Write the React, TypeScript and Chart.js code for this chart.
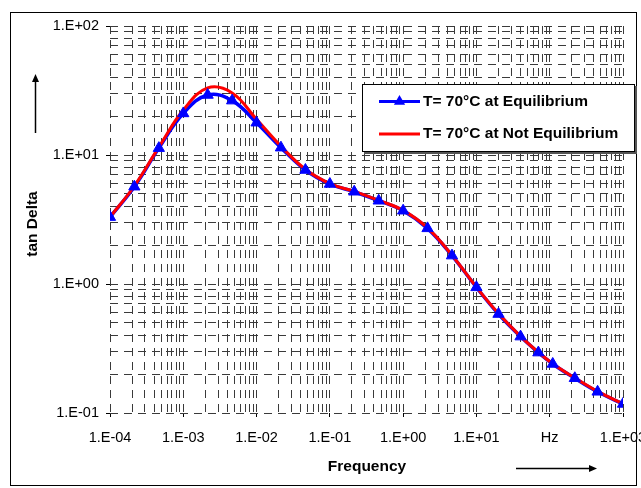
import React, { useEffect, useRef } from 'react';
import { Chart, registerables } from 'chart.js';

Chart.register(...registerables);

// ---- data ----
const frequency = [
  1e-4, 2.15e-4, 4.64e-4, 1e-3, 2.15e-3, 4.64e-3, 1e-2, 2.15e-2, 4.64e-2,
  1e-1, 2.15e-1, 4.64e-1, 1, 2.15, 4.64, 10, 20, 40, 70, 110, 220, 450, 1000,
];
const tanDeltaEquilibrium = [
  3.3, 5.68, 11.3, 21.0, 29.2, 26.4, 17.8, 11.4, 7.65,
  5.96, 5.19, 4.42, 3.7, 2.7, 1.66, 0.942, 0.585, 0.391, 0.294, 0.24, 0.186, 0.146, 0.1175,
];
const tanDeltaNotEquilibrium = [
  3.3, 5.75, 11.5, 22.3, 33.1, 30.3, 18.9, 11.7, 7.75,
  6.0, 5.22, 4.45, 3.72, 2.72, 1.67, 0.945, 0.59, 0.393, 0.296, 0.241, 0.187, 0.147, 0.118,
];
const xTickValues = [1e-4, 1e-3, 1e-2, 1e-1, 1, 10, 100, 1000];
const xTickLabels = ['1.E-04', '1.E-03', '1.E-02', '1.E-01', '1.E+00', '1.E+01', 'Hz', '1.E+03'];
const yTickValues = [0.1, 1, 10, 100];
const yTickLabels = ['1.E-01', '1.E+00', '1.E+01', '1.E+02'];
const seriesNames = ['T= 70°C at Equilibrium', 'T= 70°C at Not Equilibrium'];
const xTitle = 'Frequency';
const yTitle = 'tan Delta';

const FONT = '"Liberation Sans", Arial, sans-serif';
const BLUE = '#0000FF';
const RED = '#FF0000';

function logTicks(minExp: number, maxExp: number) {
  const out: { value: number }[] = [];
  for (let e = minExp; e < maxExp; e++) {
    for (let m = 1; m <= 9; m++) out.push({ value: Number((m * Math.pow(10, e)).toPrecision(6)) });
  }
  out.push({ value: Number(Math.pow(10, maxExp).toPrecision(6)) });
  return out;
}

function labelFor(values: number[], labels: string[], v: number) {
  const i = values.findIndex((t) => Math.abs(Math.log10(t) - Math.log10(v)) < 1e-6);
  return i >= 0 ? labels[i] : '';
}

function arrow(ctx: CanvasRenderingContext2D, x1: number, y1: number, x2: number, y2: number) {
  const ang = Math.atan2(y2 - y1, x2 - x1);
  const hl = 8;
  const hw = 3.5;
  ctx.beginPath();
  ctx.moveTo(x1, y1);
  ctx.lineTo(x2 - Math.cos(ang) * hl, y2 - Math.sin(ang) * hl);
  ctx.stroke();
  ctx.beginPath();
  ctx.moveTo(x2, y2);
  ctx.lineTo(x2 - Math.cos(ang) * hl - Math.sin(ang) * hw, y2 - Math.sin(ang) * hl + Math.cos(ang) * hw);
  ctx.lineTo(x2 - Math.cos(ang) * hl + Math.sin(ang) * hw, y2 - Math.sin(ang) * hl - Math.cos(ang) * hw);
  ctx.closePath();
  ctx.fill();
}

const decorPlugin = {
  id: 'decor',
  afterDraw(chart: any) {
    const ctx: CanvasRenderingContext2D = chart.ctx;
    ctx.save();
    ctx.strokeStyle = '#000';
    ctx.fillStyle = '#000';
    ctx.lineWidth = 1;
    // outer frame
    ctx.strokeRect(10.5, 12.5, 626, 473);

    // y title
    ctx.save();
    ctx.font = `bold 15.5px ${FONT}`;
    ctx.translate(33, 224);
    ctx.rotate(-Math.PI / 2);
    ctx.textAlign = 'center';
    ctx.textBaseline = 'middle';
    ctx.fillText(yTitle, 0, 0);
    ctx.restore();

    // x title
    ctx.font = `bold 15.5px ${FONT}`;
    ctx.textAlign = 'center';
    ctx.textBaseline = 'middle';
    ctx.fillText(xTitle, 367, 467);

    // arrows
    ctx.lineWidth = 1.5;
    arrow(ctx, 35.5, 133, 35.5, 74);
    arrow(ctx, 516, 468.5, 597, 468.5);

    // legend
    const lx = 362, ly = 84, lw = 273, lh = 68;
    ctx.fillStyle = '#555';
    ctx.fillRect(lx + 2, ly + 2, lw, lh);
    ctx.fillStyle = '#fff';
    ctx.fillRect(lx, ly, lw, lh);
    ctx.lineWidth = 1;
    ctx.strokeStyle = '#000';
    ctx.strokeRect(lx + 0.5, ly + 0.5, lw - 1, lh - 1);

    const rows = [
      { y: 101.5, color: BLUE, marker: true, text: seriesNames[0] },
      { y: 134, color: RED, marker: false, text: seriesNames[1] },
    ];
    rows.forEach((r) => {
      ctx.strokeStyle = r.color;
      ctx.lineWidth = 3;
      ctx.beginPath();
      ctx.moveTo(379, r.y);
      ctx.lineTo(420, r.y);
      ctx.stroke();
      if (r.marker) {
        const rad = 6.5;
        ctx.fillStyle = r.color;
        ctx.beginPath();
        let a = 0;
        ctx.moveTo(399.5 + Math.sin(a) * rad, r.y - Math.cos(a) * rad);
        a += (2 * Math.PI) / 3;
        ctx.lineTo(399.5 + Math.sin(a) * rad, r.y - Math.cos(a) * rad);
        a += (2 * Math.PI) / 3;
        ctx.lineTo(399.5 + Math.sin(a) * rad, r.y - Math.cos(a) * rad);
        ctx.closePath();
        ctx.fill();
      }
      ctx.fillStyle = '#000';
      ctx.font = `bold 15.5px ${FONT}`;
      ctx.textAlign = 'left';
      ctx.textBaseline = 'middle';
      ctx.fillText(r.text, 423, r.y);
    });
    ctx.restore();
  },
};

export default function App() {
  const ref = useRef<HTMLCanvasElement | null>(null);

  useEffect(() => {
    if (!ref.current) return;
    const eqPts = frequency.map((x, i) => ({ x, y: tanDeltaEquilibrium[i] }));
    const neqPts = frequency.map((x, i) => ({ x, y: tanDeltaNotEquilibrium[i] }));
    const gridColor = '#3a3a3a';

    const chart = new Chart(ref.current, {
      type: 'line',
      data: {
        datasets: [
          {
            label: seriesNames[0] + ' markers',
            data: eqPts,
            showLine: false,
            pointStyle: 'triangle',
            pointRadius: 6.5,
            pointBackgroundColor: BLUE,
            pointBorderColor: BLUE,
            pointBorderWidth: 1,
            order: 0,
          },
          {
            label: seriesNames[1],
            data: neqPts,
            borderColor: RED,
            borderWidth: 3,
            pointRadius: 0,
            tension: 0.4,
            fill: false,
            order: 1,
          },
          {
            label: seriesNames[0],
            data: eqPts,
            borderColor: BLUE,
            borderWidth: 3.5,
            pointRadius: 0,
            tension: 0.4,
            fill: false,
            order: 2,
          },
        ],
      },
      options: {
        responsive: false,
        animation: false,
        events: [],
        layout: { padding: { left: 0, top: 26, right: 18, bottom: 0 } },
        plugins: { legend: { display: false }, tooltip: { enabled: false } },
        scales: {
          x: {
            type: 'logarithmic',
            min: 1e-4,
            max: 1e3,
            afterBuildTicks: (s: any) => {
              s.ticks = logTicks(-4, 3);
            },
            afterFit: (s: any) => {
              s.height = 75;
              s.paddingLeft = 0;
              s.paddingRight = 0;
            },
            ticks: {
              autoSkip: false,
              maxRotation: 0,
              minRotation: 0,
              padding: 12,
              color: '#000',
              font: { family: FONT, size: 14.5 },
              callback: (v: any) => labelFor(xTickValues, xTickLabels, Number(v)),
            },
            grid: {
              color: gridColor,
              lineWidth: 1,
              drawTicks: true,
              tickLength: 4,
              tickColor: (c: any) =>
                c.tick && labelFor(xTickValues, xTickLabels, c.tick.value) !== '' ? '#000' : 'rgba(0,0,0,0)',
            },
            border: { display: false, dash: [8, 6] },
          },
          y: {
            type: 'logarithmic',
            min: 0.1,
            max: 100,
            afterBuildTicks: (s: any) => {
              s.ticks = logTicks(-1, 2);
            },
            afterFit: (s: any) => {
              s.width = 110;
              s.paddingTop = 0;
              s.paddingBottom = 0;
            },
            ticks: {
              autoSkip: false,
              padding: 7,
              color: '#000',
              font: { family: FONT, size: 14.5 },
              callback: (v: any) => labelFor(yTickValues, yTickLabels, Number(v)),
            },
            grid: {
              color: gridColor,
              lineWidth: 1,
              drawTicks: true,
              tickLength: 4,
              tickColor: (c: any) =>
                c.tick && labelFor(yTickValues, yTickLabels, c.tick.value) !== '' ? '#000' : 'rgba(0,0,0,0)',
            },
            border: { display: false, dash: [8, 6] },
          },
        },
      } as any,
      plugins: [decorPlugin],
    });
    return () => chart.destroy();
  }, []);

  return (
    <div style={{ position: 'absolute', left: 0, top: 0, width: 641, height: 488, background: '#fff' }}>
      <canvas ref={ref} width={641} height={488} style={{ display: 'block' }} />
    </div>
  );
}
